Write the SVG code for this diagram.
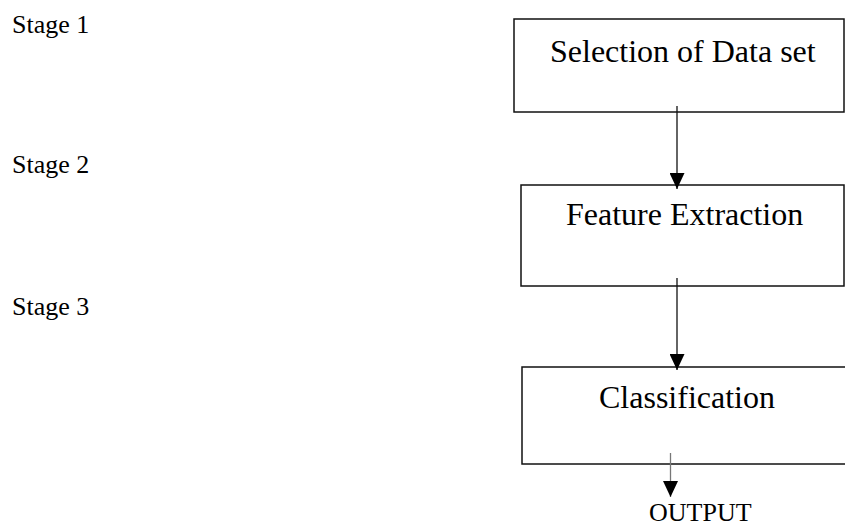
<svg xmlns="http://www.w3.org/2000/svg" width="845" height="525" viewBox="0 0 845 525">
<style>
.box{fill:#fff;stroke:#111;stroke-width:1.5}
.t{font-family:"Liberation Serif","Times New Roman",serif;fill:#000}
.big{font-size:32px}
.small{font-size:26px}
.ln{stroke:#111;stroke-width:1.3;fill:none}
</style>
<defs>
<marker id="ah" markerUnits="userSpaceOnUse" markerWidth="16" markerHeight="15" refX="16" refY="7.5" orient="auto" viewBox="0 0 16 15">
<path d="M0,0 L16,7.5 L0,15 z" fill="#000"/>
</marker>
</defs>
<rect width="845" height="525" fill="#fff"/>
<g id="labels">
<text class="t small" x="12" y="33">Stage 1</text>
<text class="t small" x="12" y="173">Stage 2</text>
<text class="t small" x="12" y="315">Stage 3</text>
</g>
<g id="node-selection">
<rect class="box" x="514" y="19" width="330" height="93"/>
<text class="t big" x="550" y="62">Selection of Data set</text>
</g>
<g id="node-feature">
<rect class="box" x="521" y="185" width="323" height="101"/>
<text class="t big" x="566" y="225">Feature Extraction</text>
</g>
<g id="node-classification">
<rect class="box" x="522" y="367" width="330" height="97"/>
<text class="t big" x="599" y="408">Classification</text>
</g>
<g id="node-output">
<text class="t small" x="649" y="521">OUTPUT</text>
</g>
<g id="connectors">
<line class="ln" x1="677" y1="106" x2="677" y2="189" marker-end="url(#ah)"/>
<line class="ln" x1="677" y1="278" x2="677" y2="370" marker-end="url(#ah)"/>
<line class="ln" x1="670.5" y1="453" x2="670.5" y2="497" style="stroke:#777" marker-end="url(#ah)"/>
</g>
</svg>
